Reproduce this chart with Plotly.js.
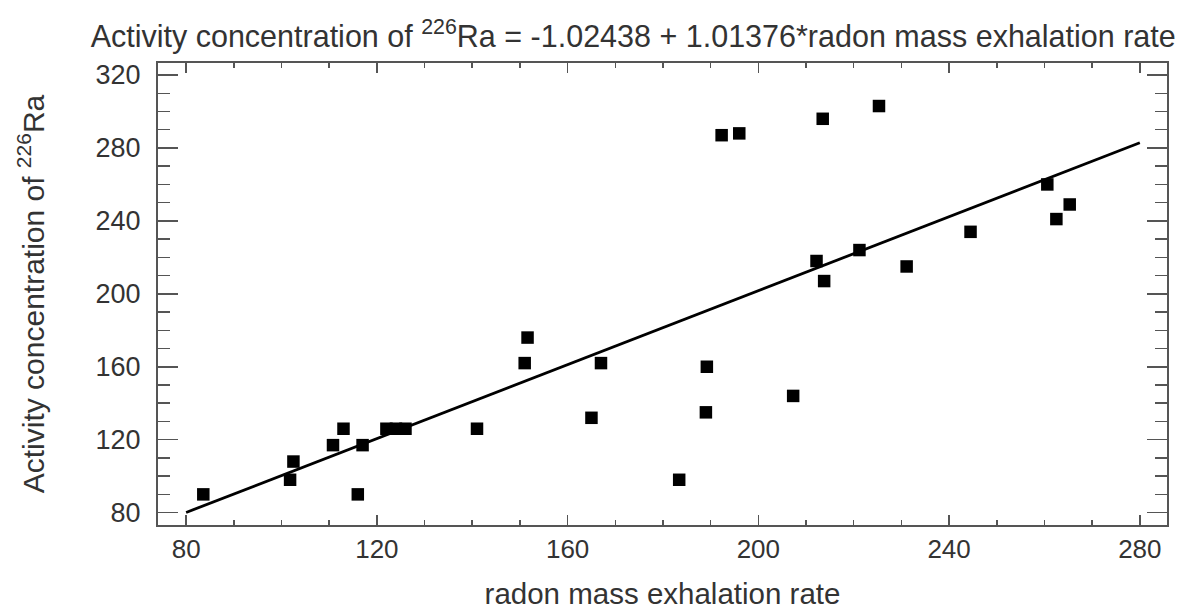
<!DOCTYPE html>
<html>
<head>
<meta charset="utf-8">
<script src="https://cdn.plot.ly/plotly-3.0.1.min.js"></script>
<style>html,body{margin:0;padding:0;background:#fff;}#chart{width:1188px;height:610px;}</style>
</head>
<body>
<div id="chart"></div>
<script>
// radon mass exhalation rate (x) and activity concentration of 226Ra (y)
const exhalationRate = [83.6, 101.8, 102.5, 110.8, 113.0, 116.0, 117.0, 122.0, 124.0, 126.0, 141.0,
  151.0, 151.6, 165.0, 167.0, 183.4, 189.0, 189.2, 192.3, 196.0, 207.3, 212.2, 213.8, 213.5,
  221.2, 225.3, 231.1, 244.5, 260.6, 262.5, 265.3];
const activityRa = [90, 98, 108, 117, 126, 90, 117, 126, 126, 126, 126,
  162, 176, 132, 162, 98, 135, 160, 287, 288, 144, 218, 207, 296,
  224, 303, 215, 234, 260, 241, 249];
// fitted model given in the title
const intercept = -1.02438;
const slope = 1.01376;
const fitX = [80, 280];
const fitY = fitX.map(x => intercept + slope * x);
const xTicks = [80, 120, 160, 200, 240, 280];
const yTicks = [80, 120, 160, 200, 240, 280, 320];

const FONT = 'Liberation Sans, Arial, sans-serif';
const traces = [
  {x: fitX, y: fitY, mode: 'lines', type: 'scatter', line: {color: '#000', width: 2.8}, hoverinfo: 'skip'},
  {x: exhalationRate, y: activityRa, mode: 'markers', type: 'scatter',
   marker: {symbol: 'square', size: 12.5, color: '#000'}}
];
const layout = {
  width: 1188, height: 610,
  margin: {l: 158, r: 21, t: 63, b: 85},
  paper_bgcolor: '#fff', plot_bgcolor: '#fff',
  showlegend: false,
  font: {family: FONT, color: '#333'},
  title: {text: 'Activity concentration of <sup>226</sup>Ra = -1.02438 + 1.01376*radon mass exhalation rate',
          font: {size: 30.5, color: '#333', family: FONT}, xref: 'container', x: 0.533, xanchor: 'center',
          yref: 'container', y: 0.94, yanchor: 'middle'},
  xaxis: {
    range: [74.1, 285.7], tickvals: xTicks, ticktext: xTicks.map(String),
    ticks: 'inside', ticklen: 10, tickwidth: 1.5, tickcolor: '#555',
    minor: {dtick: 10, tick0: 0, ticks: 'inside', ticklen: 5, tickcolor: '#555', tickwidth: 1.5},
    showline: true, linecolor: '#555', linewidth: 2, mirror: 'ticks',
    showgrid: false, zeroline: false,
    tickfont: {size: 26, color: '#333'},
    title: {text: 'radon mass exhalation rate', font: {size: 29.5, color: '#333'}, standoff: 24}
  },
  yaxis: {
    range: [73.2, 326.6], tickvals: yTicks, ticktext: yTicks.map(String),
    ticks: 'inside', ticklen: 20, tickwidth: 1.5, tickcolor: '#555',
    minor: {dtick: 10, tick0: 0, ticks: 'inside', ticklen: 12, tickcolor: '#555', tickwidth: 1.5},
    showline: true, linecolor: '#555', linewidth: 2, mirror: 'ticks',
    showgrid: false, zeroline: false,
    ticklabelstandoff: 10,
    tickfont: {size: 27, color: '#333'},
    title: {text: 'Activity concentration of <sup>226</sup>Ra', font: {size: 30, color: '#333'}, standoff: 42}
  }
};
Plotly.newPlot('chart', traces, layout, {displayModeBar: false, staticPlot: true});
</script>
</body>
</html>
